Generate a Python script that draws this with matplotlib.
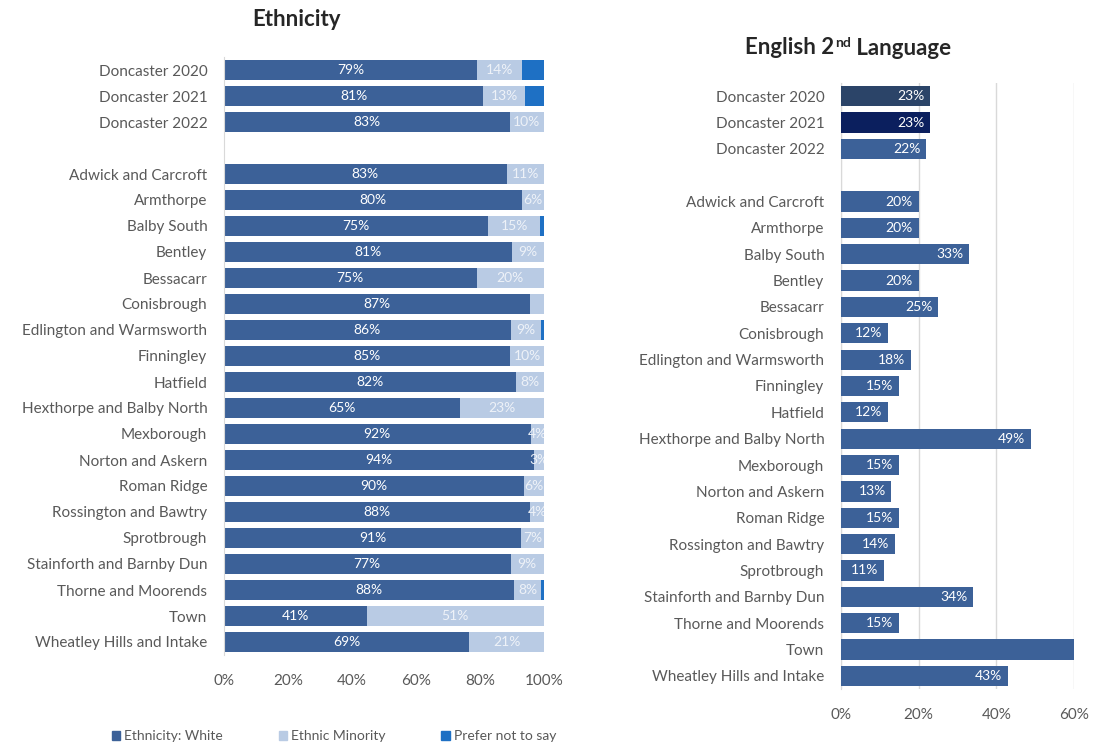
import matplotlib
matplotlib.use("Agg")
import matplotlib.pyplot as plt
from matplotlib.patches import Patch

plt.rcParams['font.family'] = ['Lato', 'DejaVu Sans']

# ---------------- data ----------------
areas = ["Doncaster 2020", "Doncaster 2021", "Doncaster 2022", "",
         "Adwick and Carcroft", "Armthorpe", "Balby South", "Bentley", "Bessacarr",
         "Conisbrough", "Edlington and Warmsworth", "Finningley", "Hatfield",
         "Hexthorpe and Balby North", "Mexborough", "Norton and Askern", "Roman Ridge",
         "Rossington and Bawtry", "Sprotbrough", "Stainforth and Barnby Dun",
         "Thorne and Moorends", "Town", "Wheatley Hills and Intake"]

eth_white = [79, 81, 83, None, 83, 80, 75, 81, 75, 87, 86, 85, 82, 65, 92, 94, 90, 88, 91, 77, 88, 41, 69]
eth_minority = [14, 13, 10, None, 11, 6, 15, 9, 20, 4, 9, 10, 8, 23, 4, 3, 6, 4, 7, 9, 8, 51, 21]
eth_prefer = [7, 6, 0, None, 0, 0, 1, 0, 0, 0, 1, 0, 0, 0, 0, 0, 0, 0, 0, 0, 1, 0, 0]
minority_label_shown = [True] * 23
minority_label_shown[9] = False  # Conisbrough: no label on chart

esl = [23, 23, 22, None, 20, 20, 33, 20, 25, 12, 18, 15, 12, 49, 15, 13, 15, 14, 11, 34, 15, 70, 43]

eth_ticks = [0, 20, 40, 60, 80, 100]
esl_ticks = [0, 20, 40, 60]
ESL_MAX = 60

# ---------------- style ----------------
C_WHITE = "#3C6198"
C_MIN = "#B9CBE4"
C_PREF = "#1E70C4"
C_ESL = ["#2B4468", "#0B1F5E"] + ["#3C6198"] * 21
TXT = "#595959"
SPINE = "#D9D9D9"

fig = plt.figure(figsize=(10.93, 7.47), dpi=100)

# ---------------- left: ethnicity ----------------
ax1 = fig.add_axes([224 / 1093, 1 - 655 / 747, 320 / 1093, 598 / 747])
for i, (w, m, p) in enumerate(zip(eth_white, eth_minority, eth_prefer)):
    if w is None:
        continue
    tot = w + m + p
    fw, fm, fp = 100 * w / tot, 100 * m / tot, 100 * p / tot
    ax1.barh(i, fw, height=0.77, color=C_WHITE)
    ax1.barh(i, fm, left=fw, height=0.77, color=C_MIN)
    if fp > 0:
        ax1.barh(i, fp, left=fw + fm, height=0.77, color=C_PREF)
    ax1.text(fw / 2, i, f"{w}%", ha="center", va="center", color="white",
             fontsize=10, clip_on=True)
    if minority_label_shown[i]:
        ax1.text(fw + fm / 2, i, f"{m}%", ha="center", va="center",
                 color="#EEF2F8", fontsize=10, clip_on=True)

ax1.set_xlim(0, 100)
ax1.set_ylim(len(areas) - 0.5, -0.5)
ax1.set_yticks(range(len(areas)))
ax1.set_yticklabels(areas)
ax1.set_xticks(eth_ticks)
ax1.set_xticklabels([f"{t}%" for t in eth_ticks])
ax1.tick_params(axis="both", length=0, colors=TXT, labelsize=11)
ax1.tick_params(axis="x", pad=14)
ax1.tick_params(axis="y", pad=12)
for s in ["top", "right", "bottom"]:
    ax1.spines[s].set_visible(False)
ax1.spines["left"].set_color(SPINE)

fig.text(296 / 1093, 1 - 20 / 747, "Ethnicity", ha="center", va="center",
         fontsize=16, fontweight="bold", color="#262626")

handles = [Patch(color=C_WHITE, label="Ethnicity: White"),
           Patch(color=C_MIN, label="Ethnic Minority"),
           Patch(color=C_PREF, label="Prefer not to say")]
leg = fig.legend(handles=handles, loc="center", bbox_to_anchor=(334 / 1093, 1 - 736 / 747),
                 ncol=3, frameon=False, fontsize=10, handlelength=0.6, handleheight=0.6,
                 handletextpad=0.3, columnspacing=4.0)
for t in leg.get_texts():
    t.set_color(TXT)

# ---------------- right: English 2nd language ----------------
ax2 = fig.add_axes([841 / 1093, 1 - 689 / 747, 233 / 1093, 606 / 747])
for i, v in enumerate(esl):
    if v is None:
        continue
    ax2.barh(i, v, height=0.77, color=C_ESL[i], zorder=3)
    if v <= ESL_MAX:  # labels of bars running past the axis are not shown
        ax2.text(v - 1.5, i, f"{v}%", ha="right", va="center", color="white",
                 fontsize=10, clip_on=True, zorder=4)
ax2.set_xlim(0, ESL_MAX)
ax2.set_ylim(len(areas) - 0.5, -0.5)
ax2.set_yticks(range(len(areas)))
ax2.set_yticklabels(areas)
ax2.set_xticks(esl_ticks)
ax2.set_xticklabels([f"{t}%" for t in esl_ticks])
ax2.grid(axis="x", color=SPINE, linewidth=1, zorder=0)
ax2.tick_params(axis="both", length=0, colors=TXT, labelsize=11)
ax2.tick_params(axis="x", pad=14)
ax2.tick_params(axis="y", pad=12)
for s in ["top", "right", "bottom"]:
    ax2.spines[s].set_visible(False)
ax2.spines["left"].set_color(SPINE)

t1 = fig.text(745 / 1093, 1 - 47 / 747, "English 2", ha="left", va="center",
              fontsize=16, fontweight="bold", color="#262626")
t2 = fig.text(0, 0, "nd", fontsize=10, fontweight="bold", color="#262626")
t3 = fig.text(0, 0, " Language", fontsize=16, fontweight="bold", color="#262626")
fig.canvas.draw()
r = fig.canvas.get_renderer()
bb = t1.get_window_extent(r).transformed(fig.transFigure.inverted())
t2.set_position((bb.x1 + 0.001, bb.y1 - 0.014))
bb2 = t2.get_window_extent(r).transformed(fig.transFigure.inverted())
t3.set_position((bb2.x1, bb.y0 + 0.004))

fig.savefig("out.png", dpi=100)
